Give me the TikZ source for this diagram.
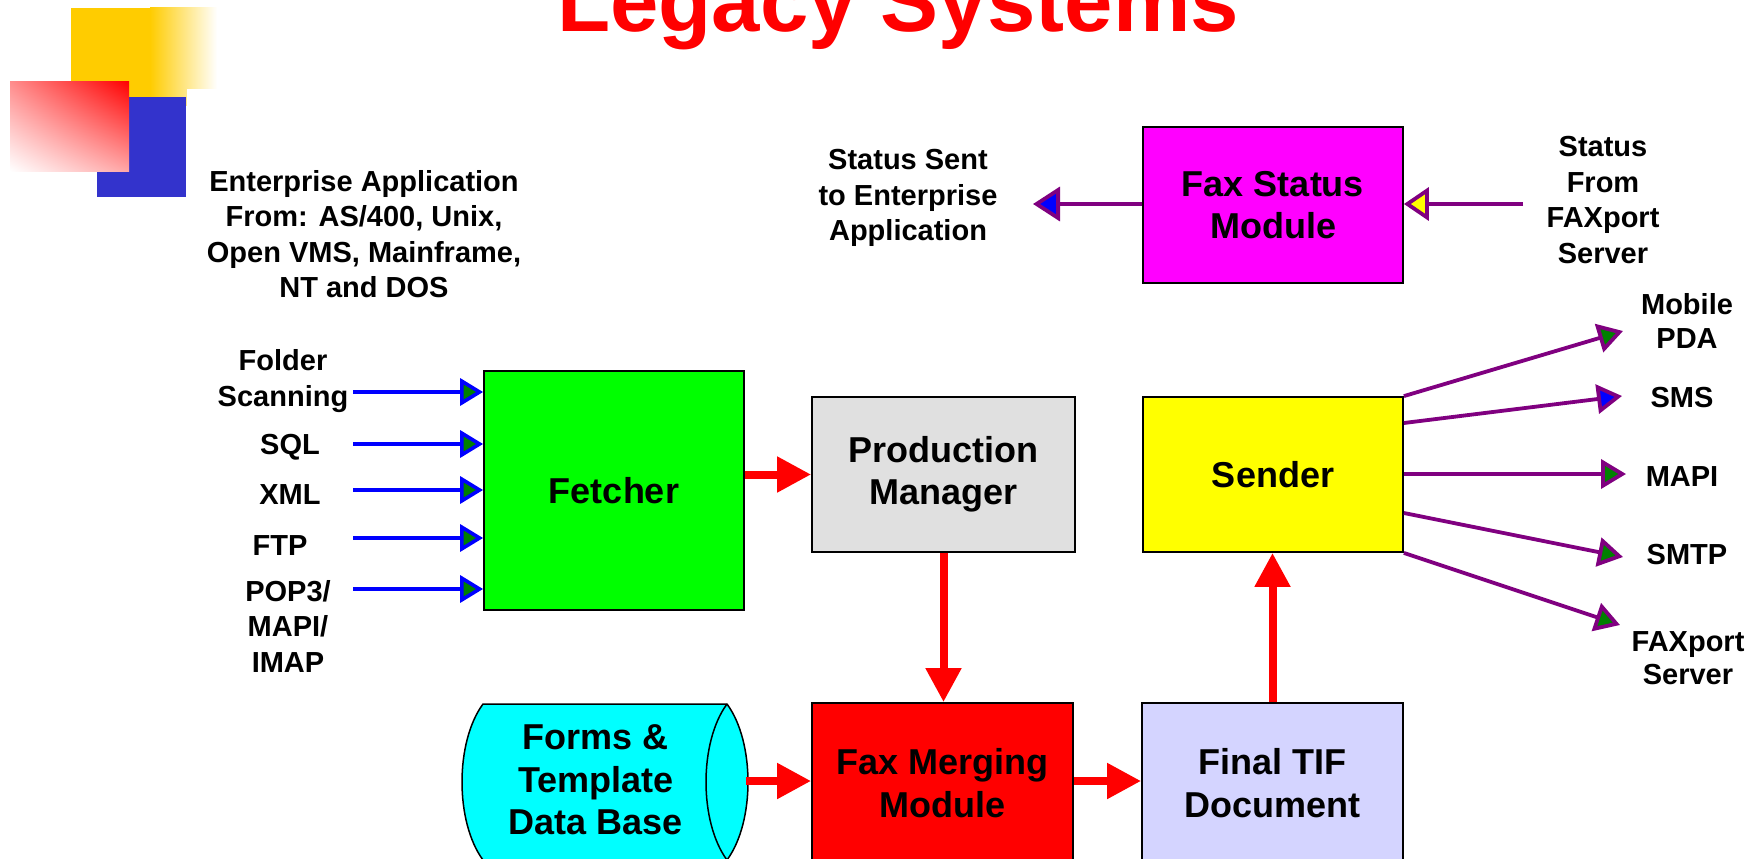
\documentclass[tikz,border=0pt]{standalone}
\usepackage{fontspec}
\setmainfont{Liberation Sans}
\usetikzlibrary{arrows.meta,calc,shadings}
\definecolor{boxgreen}{RGB}{0,255,0}
\definecolor{pmgray}{RGB}{224,224,224}
\definecolor{fsmagenta}{RGB}{255,0,255}
\definecolor{sdyellow}{RGB}{255,255,0}
\definecolor{fmred}{RGB}{255,0,0}
\definecolor{tiflav}{RGB}{212,212,255}
\definecolor{dbcyan}{RGB}{0,255,255}
\definecolor{linepurple}{RGB}{128,0,128}
\definecolor{inblue}{RGB}{0,0,255}
\definecolor{arrowgreen}{RGB}{0,128,0}
\definecolor{decoyellow}{RGB}{255,204,0}
\definecolor{decoblue}{RGB}{51,51,204}
\begin{document}
\begin{tikzpicture}[x=1pt,y=-1pt,
  box/.style={draw=black, line width=1.8pt, align=center, inner sep=0pt,
    font=\fontsize{36}{42.5}\selectfont\bfseries},
  lbl/.style={align=center, inner sep=0pt, font=\fontsize{29}{35.5}\selectfont\bfseries},
  inarrow/.style={draw=inblue, line width=3.6pt, -{Triangle[length=23pt,width=27pt,fill=arrowgreen]}},
  outarrow/.style={draw=linepurple, line width=3.8pt, -{Triangle[length=25pt,width=29pt,fill=arrowgreen]}},
  bigarrow/.style={draw=red, line width=8pt, -{Triangle[length=34pt,width=34pt]}},
]
\useasboundingbox (0,0) rectangle (1753,859);
\clip (0,0) rectangle (1753,859);
\fill[white] (0,0) rectangle (1753,859);

% decoration
\fill[decoyellow] (71,8) rectangle (151,105);
\shade[left color=decoyellow, right color=white] (150,8) rectangle (217,105);
\fill[white] (187,89) rectangle (225,110);
\fill[decoblue] (97,97) rectangle (186,197);
\shade[upper right=red, upper left=red!45, lower right=red!35, lower left=white] (10,81) rectangle (129,171);

% title
\node[anchor=base, inner sep=0pt, text=red, font=\fontsize{87}{87}\selectfont\bfseries] (title) at (898,32) {Legacy Systems};

% boxes
\node[box, fill=boxgreen, minimum width=260pt, minimum height=239pt] (fetch) at (614,490.5) {Fetcher};
\node[box, fill=pmgray, minimum width=263pt, minimum height=155pt] (pm) at (943.5,474.5) {Production\\Manager};
\node[box, fill=fsmagenta, minimum width=260pt, minimum height=156pt] (fsm) at (1273,205) {Fax Status\\Module};
\node[box, fill=sdyellow, minimum width=260pt, minimum height=155pt] (sender) at (1273,474.5) {Sender};
\node[box, fill=fmred, minimum width=261pt, minimum height=160pt] (fm) at (942.5,783) {Fax Merging\\Module};
\node[box, fill=tiflav, minimum width=261pt, minimum height=160pt] (tif) at (1272.5,783) {Final TIF\\Document};

% database cylinder (lying on its side)
\path[fill=dbcyan, draw=black, line width=1.5pt] (727,704) -- (483,704)
  .. controls (455,742) and (455,822) .. (483,860) -- (727,860)
  .. controls (755,822) and (755,742) .. (727,704) -- cycle;
\draw[black, line width=1.5pt] (727,704) .. controls (699,742) and (699,822) .. (727,860);
\node[box, draw=none] (db) at (596,780) {Forms \&\\Template\\Data Base};
\coordinate (dbend) at (746,781);

% labels
\node[lbl] (ent) at (364,234) {Enterprise Application\\From: AS/400, Unix,\\Open VMS, Mainframe,\\NT and DOS};
\node[lbl] (lfolder) at (283,381) {Folder\\Scanning};
\node[lbl] (lsql) at (290,447) {SQL};
\node[lbl] (lxml) at (290,495) {XML};
\node[lbl] (lftp) at (280,546) {FTP};
\node[lbl] (lpop) at (288,626) {POP3/\\MAPI/\\IMAP};
\node[lbl] (lsent) at (908,198) {Status Sent\\to Enterprise\\Application};
\node[lbl] (lfrom) at (1603,200) {Status\\From\\FAXport\\Server};
\node[lbl, font=\fontsize{29}{34}\selectfont\bfseries] (lmobile) at (1687,321) {Mobile\\PDA};
\node[lbl] (lsms) at (1682,398) {SMS};
\node[lbl] (lmapi) at (1682,477) {MAPI};
\node[lbl] (lsmtp) at (1687,555) {SMTP};
\node[lbl, font=\fontsize{29}{33}\selectfont\bfseries] (lfax) at (1688,658) {FAXport\\Server};

% input arrows
\coordinate (in1) at (353,392);
\coordinate (in2) at (353,444);
\coordinate (in3) at (353,490);
\coordinate (in4) at (353,538);
\coordinate (in5) at (353,589);
\foreach \i in {1,...,5} \draw[inarrow] (in\i) -- (in\i -| fetch.west);

% status arrows
\coordinate (sttip) at (1033,204);
\coordinate (stfrom) at (1523,204);
\draw[draw=linepurple, line width=3.8pt, -{Triangle[length=27pt,width=34pt,fill=inblue]}] (fsm.west |- sttip) -- (sttip);
\draw[draw=linepurple, line width=3.8pt, -{Triangle[length=25pt,width=33pt,fill=sdyellow]}] (stfrom) -- (stfrom -| fsm.east);

% red arrows
\draw[bigarrow] (pm.west -| fetch.east) -- (pm.west);
\draw[bigarrow] (pm.south) -- (pm.south |- fm.north);
\draw[bigarrow] (dbend) -- (dbend -| fm.west);
\draw[bigarrow] (fm.east |- dbend) -- (tif.west |- dbend);
\draw[bigarrow] (tif.north) -- (tif.north |- sender.south);

% sender fan-out
\coordinate (tmobile) at (1623,331);
\coordinate (tsms) at (1622,396);
\coordinate (tmapi) at (1626,474);
\coordinate (tsmtp) at (1623,557);
\coordinate (tfax) at (1620,625);
\draw[outarrow] (sender.north east) -- (tmobile);
\draw[outarrow, -{Triangle[length=25pt,width=29pt,fill=inblue]}] ([yshift=51.5pt]sender.east) -- (tsms);
\draw[outarrow] (sender.east |- tmapi) -- (tmapi);
\draw[outarrow] ([yshift=-38.5pt]sender.east) -- (tsmtp);
\draw[outarrow] (sender.south east) -- (tfax);
\end{tikzpicture}
\end{document}
